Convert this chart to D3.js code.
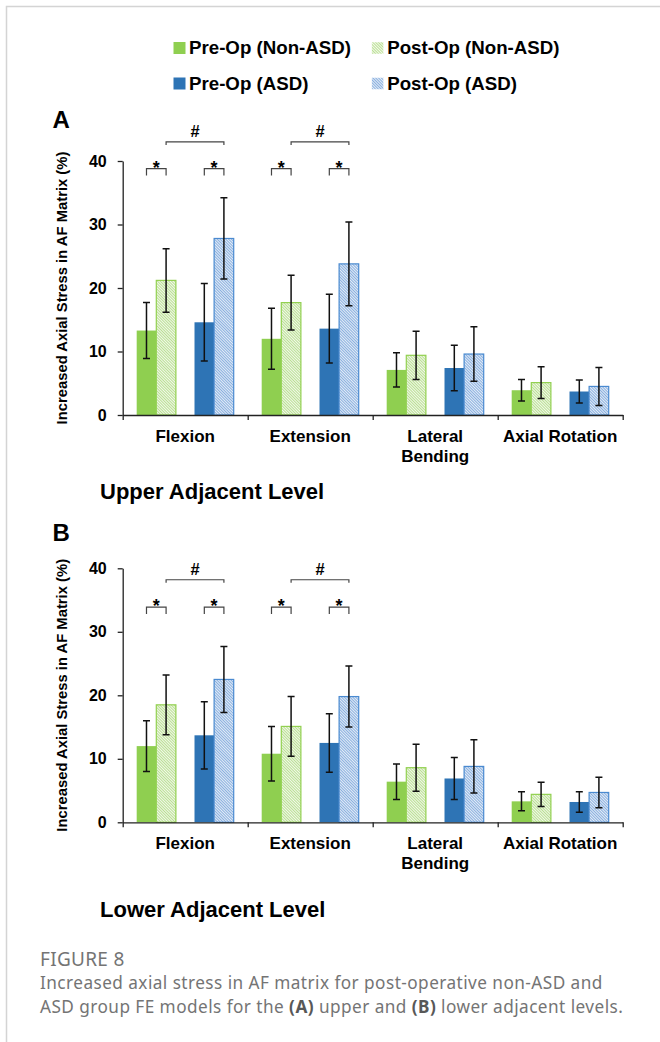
<!DOCTYPE html>
<html>
<head>
<meta charset="utf-8">
<script src="https://d3js.org/d3.v7.min.js"></script>
<style>
    body { margin: 0; background: #fff; }
    text { font-family: "Liberation Sans", Arial, sans-serif; }
    .caption { font-family: "Noto Sans", "Open Sans", sans-serif; fill: #747474; }
</style>
</head>
<body>
<div id="chart"></div>
<script>

// categories and series
var categories = ["Flexion", "Extension", "Lateral Bending", "Axial Rotation"];
var seriesNames = ["Pre-Op (Non-ASD)", "Post-Op (Non-ASD)", "Pre-Op (ASD)", "Post-Op (ASD)"];
var yTicks = [0, 10, 20, 30, 40];

// upper adjacent level (panel A), means and SD
var upperPreNon  = [13.3, 12.0, 7.1, 3.9];
var upperPostNon = [21.2, 17.7, 9.4, 5.1];
var upperPreASD  = [14.6, 13.6, 7.4, 3.7];
var upperPostASD = [27.8, 23.8, 9.6, 4.5];
var upperPreNonErr  = [4.4, 4.8, 2.7, 1.7];
var upperPostNonErr = [5.0, 4.3, 3.8, 2.5];
var upperPreASDErr  = [6.1, 5.4, 3.6, 1.8];
var upperPostASDErr = [6.4, 6.6, 4.3, 3.0];

// lower adjacent level (panel B)
var lowerPreNon  = [12.0, 10.8, 6.4, 3.3];
var lowerPostNon = [18.5, 15.1, 8.6, 4.4];
var lowerPreASD  = [13.7, 12.5, 6.9, 3.2];
var lowerPostASD = [22.5, 19.8, 8.8, 4.7];
var lowerPreNonErr  = [4.0, 4.3, 2.8, 1.5];
var lowerPostNonErr = [4.7, 4.7, 3.7, 1.9];
var lowerPreASDErr  = [5.3, 4.6, 3.3, 1.6];
var lowerPostASDErr = [5.2, 4.8, 4.2, 2.4];

// significance marks (categories with them, and bracket heights in axis units)
var sigCategories = ["Flexion", "Extension"];
var upperSigLevels = {star: 38.8, hash: 43.0};
var lowerSigLevels = {star: 33.9, hash: 38.2};

var width = 660, height = 1042;

var svg = d3.select("#chart").append("svg")
    .attr("width", width)
    .attr("height", height);

// frame lines of the figure box
svg.append("path")
    .attr("d", "M6.5," + height + "V6.5H" + width)
    .attr("fill", "none")
    .attr("stroke", "#d4d4d4")
    .attr("stroke-width", 1.5);

// hatch patterns for post-op bars (fine, so they read as a light tint)
var defs = svg.append("defs");
function hatch(id, bg, fg) {
    var p = defs.append("pattern")
        .attr("id", id)
        .attr("patternUnits", "userSpaceOnUse")
        .attr("width", 2).attr("height", 2)
        .attr("patternTransform", "rotate(-45)");
    p.append("rect").attr("width", 2).attr("height", 2).attr("fill", bg);
    p.append("line").attr("x1", 0.5).attr("y1", 0).attr("x2", 0.5).attr("y2", 2)
        .attr("stroke", fg).attr("stroke-width", 0.9);
}
hatch("hatchGreen", "#f2f9ea", "#b3dc8a");
hatch("hatchBlue", "#e3ecf7", "#80a9dc");

var seriesStyle = [
    {group: "Non-ASD", phase: "Pre",  fill: "#8fcf50", stroke: "none"},
    {group: "Non-ASD", phase: "Post", fill: "url(#hatchGreen)", stroke: "#92d050"},
    {group: "ASD",     phase: "Pre",  fill: "#2e74b5", stroke: "none"},
    {group: "ASD",     phase: "Post", fill: "url(#hatchBlue)", stroke: "#4a8ad0"}
];

// legend
var legendPos = [[173.5, 42], [371.7, 42], [173.5, 77.5], [371.7, 77.5]];
var legend = svg.selectAll(".legend")
    .data(seriesNames)
    .enter().append("g")
    .attr("transform", function(d, i) { return "translate(" + legendPos[i][0] + "," + legendPos[i][1] + ")"; });
legend.append("rect")
    .attr("width", 12).attr("height", 12)
    .attr("fill", function(d, i) { return seriesStyle[i].fill; })
    .attr("stroke", function(d, i) { return seriesStyle[i].stroke == "none" ? "none" : "#fff"; })
    .attr("stroke-width", 0.5);
legend.append("text")
    .attr("x", 15.5).attr("y", 12.3)
    .style("font-size", "18.7px")
    .style("font-weight", "bold")
    .text(function(d) { return d; });

// x scales (shared)
var x0 = d3.scaleBand().domain(categories).range([122.7, 622.7]);
var xg = d3.scaleBand().domain(["Non-ASD", "ASD"]).range([0, x0.bandwidth()])
    .paddingInner(0.322).paddingOuter(0.242);
var xs = d3.scaleBand().domain(["Pre", "Post"]).range([0, xg.bandwidth()]);
var xb = d3.scaleLinear().domain([0, categories.length]).range(x0.range());

function barX(cat, s) {
    return x0(cat) + xg(seriesStyle[s].group) + xs(seriesStyle[s].phase);
}
function barMid(cat, s) { return barX(cat, s) + xs.bandwidth() / 2; }

function drawPanel(opt) {
    var y = d3.scaleLinear().domain([0, 40]).range([opt.y0, opt.y40]);
    var g = svg.append("g");

    // panel letter
    g.append("text")
        .attr("x", 52.5).attr("y", opt.letterY)
        .style("font-size", "24px").style("font-weight", "bold")
        .text(opt.letter);

    // y axis
    var yAxis = g.append("g")
        .attr("transform", "translate(122.7,0)")
        .call(d3.axisLeft(y).tickValues(yTicks).tickSize(5).tickSizeOuter(0).tickPadding(11));
    yAxis.selectAll("text")
        .style("font-size", "16px").style("font-weight", "bold")
        .style("font-family", "Liberation Sans, Arial, sans-serif")
        .attr("fill", "#000");
    yAxis.selectAll("line, path").attr("stroke", "#222").attr("stroke-width", 1.3);

    g.append("text")
        .attr("transform", "translate(67," + (opt.y0 + opt.y40) / 2 + ") rotate(-90)")
        .attr("text-anchor", "middle")
        .style("font-size", "14.8px").style("font-weight", "bold")
        .text("Increased Axial Stress in AF Matrix (%)");

    // bars
    opt.values.forEach(function(vals, s) {
        g.selectAll(".bar" + s)
            .data(vals)
            .enter().append("rect")
            .attr("x", function(d, i) { return barX(categories[i], s); })
            .attr("y", function(d) { return y(d); })
            .attr("width", xs.bandwidth())
            .attr("height", function(d) { return y(0) - y(d); })
            .attr("fill", seriesStyle[s].fill)
            .attr("stroke", seriesStyle[s].stroke)
            .attr("stroke-width", 1.2);
    });

    // x axis with ticks at category boundaries
    var xAxis = g.append("g")
        .attr("transform", "translate(0," + opt.y0 + ")")
        .call(d3.axisBottom(xb).ticks(categories.length).tickFormat("").tickSize(5).tickSizeOuter(0));
    xAxis.selectAll("line, path").attr("stroke", "#222").attr("stroke-width", 1.3);

    // error bars
    opt.values.forEach(function(vals, s) {
        var errs = opt.errors[s];
        vals.forEach(function(v, i) {
            var cx = barMid(categories[i], s);
            var lo = y(v - errs[i]), hi = y(v + errs[i]);
            g.append("path")
                .attr("d", "M" + cx + "," + lo + "V" + hi +
                    "M" + (cx - 3.5) + "," + hi + "H" + (cx + 3.5) +
                    "M" + (cx - 3.5) + "," + lo + "H" + (cx + 3.5))
                .attr("fill", "none")
                .attr("stroke", "#111")
                .attr("stroke-width", 1.5);
        });
    });

    // category labels
    categories.forEach(function(c) {
        var words = c == "Lateral Bending" ? ["Lateral", "Bending"] : [c];
        words.forEach(function(w, k) {
            g.append("text")
                .attr("x", x0(c) + x0.bandwidth() / 2)
                .attr("y", opt.y0 + 27 + k * 20)
                .attr("text-anchor", "middle")
                .style("font-size", "17px").style("font-weight", "bold")
                .text(w);
        });
    });

    // significance brackets
    sigCategories.forEach(function(c) {
        var ys = y(opt.sig.star), yh = y(opt.sig.hash);
        [[0, 1], [2, 3]].forEach(function(pair) {
            var a = barMid(c, pair[0]), b = barMid(c, pair[1]);
            g.append("path")
                .attr("d", "M" + a + "," + (ys + 7) + "V" + ys + "H" + b + "V" + (ys + 7))
                .attr("fill", "none").attr("stroke", "#444").attr("stroke-width", 1.2);
            g.append("text")
                .attr("x", (a + b) / 2).attr("y", ys + 5)
                .attr("text-anchor", "middle")
                .style("font-size", "18px").style("font-weight", "bold")
                .text("*");
        });
        var a = barMid(c, 1), b = barMid(c, 3);
        g.append("path")
            .attr("d", "M" + a + "," + (yh + 3) + "V" + yh + "H" + b + "V" + (yh + 3))
            .attr("fill", "none").attr("stroke", "#444").attr("stroke-width", 1.2);
        g.append("text")
            .attr("x", (a + b) / 2).attr("y", yh - 5)
            .attr("text-anchor", "middle")
            .style("font-size", "16.5px").style("font-weight", "bold")
            .text("#");
    });

    // level title
    g.append("text")
        .attr("x", 100).attr("y", opt.titleY)
        .style("font-size", "22px").style("font-weight", "bold")
        .text(opt.title);
}

drawPanel({
    letter: "A", letterY: 128, y0: 415, y40: 161,
    values: [upperPreNon, upperPostNon, upperPreASD, upperPostASD],
    errors: [upperPreNonErr, upperPostNonErr, upperPreASDErr, upperPostASDErr],
    sig: upperSigLevels,
    title: "Upper Adjacent Level", titleY: 499
});

drawPanel({
    letter: "B", letterY: 540.5, y0: 822.3, y40: 568.3,
    values: [lowerPreNon, lowerPostNon, lowerPreASD, lowerPostASD],
    errors: [lowerPreNonErr, lowerPostNonErr, lowerPreASDErr, lowerPostASDErr],
    sig: lowerSigLevels,
    title: "Lower Adjacent Level", titleY: 917
});

// caption
svg.append("text")
    .attr("class", "caption")
    .attr("x", 40).attr("y", 966)
    .style("font-size", "19px")
    .style("letter-spacing", "0.3px")
    .text("FIGURE 8");

var cap1 = svg.append("text").attr("class", "caption")
    .attr("x", 40).attr("y", 989)
    .style("font-size", "17.2px").style("letter-spacing", "0.45px");
cap1.text("Increased axial stress in AF matrix for post-operative non-ASD and");

var cap2 = svg.append("text").attr("class", "caption")
    .attr("x", 40).attr("y", 1013)
    .style("font-size", "17.2px").style("letter-spacing", "0.45px");
cap2.append("tspan").text("ASD group FE models for the ");
cap2.append("tspan").style("font-weight", "bold").style("fill", "#585858").text("(A)");
cap2.append("tspan").text(" upper and ");
cap2.append("tspan").style("font-weight", "bold").style("fill", "#585858").text("(B)");
cap2.append("tspan").text(" lower adjacent levels.");

</script>
</body>
</html>
